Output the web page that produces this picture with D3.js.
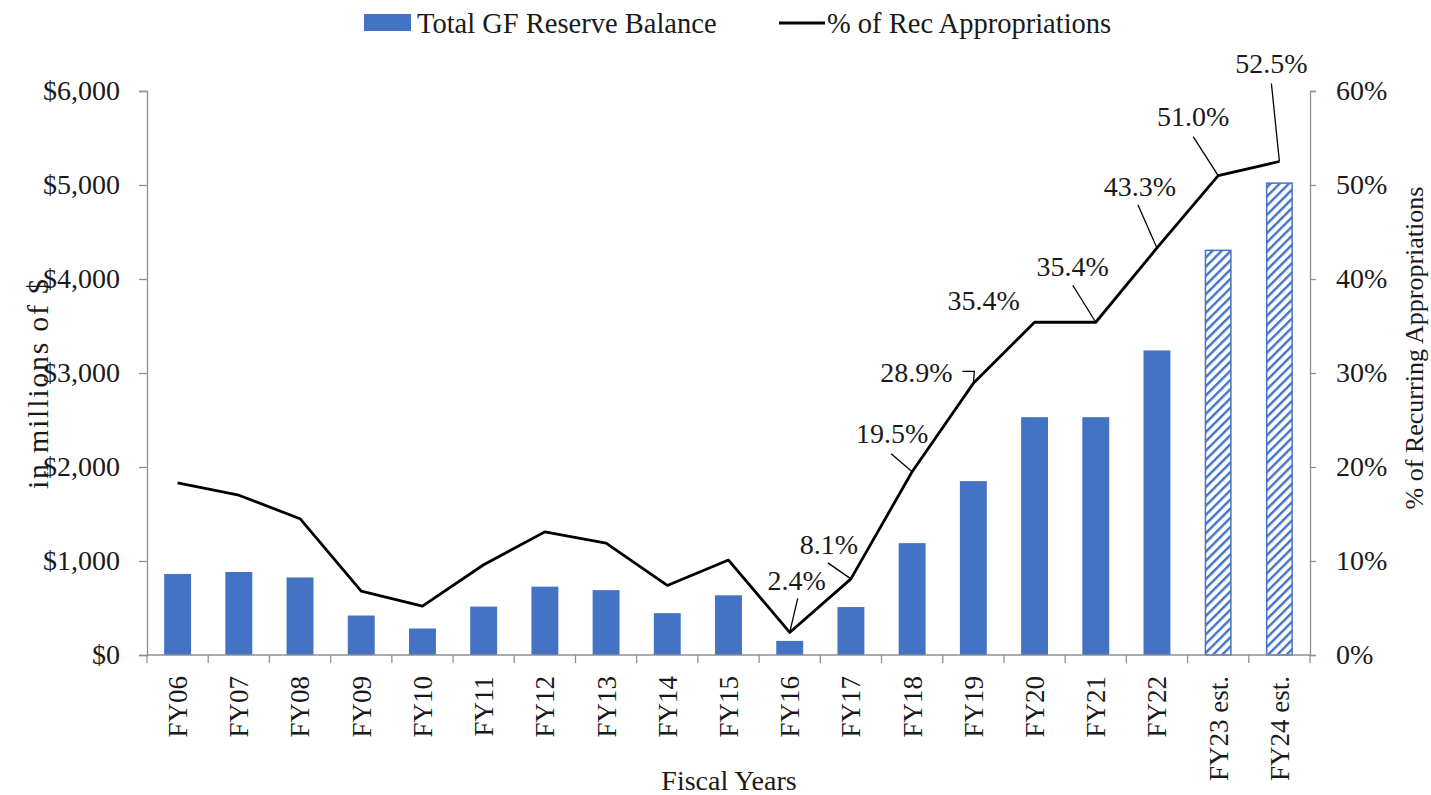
<!DOCTYPE html>
<html>
<head>
<meta charset="utf-8">
<script src="https://cdn.jsdelivr.net/npm/d3@7"></script>
<style>
  body { margin: 0; background: #fff; }
  text { font-family: "Liberation Serif", "Times New Roman", serif; fill: #1a1a1a; }
</style>
</head>
<body>
<div id="chart"></div>
<script>
const width = 1431;
const height = 795;

// data
const years = ["FY06", "FY07", "FY08", "FY09", "FY10", "FY11", "FY12", "FY13", "FY14", "FY15",
    "FY16", "FY17", "FY18", "FY19", "FY20", "FY21", "FY22", "FY23 est.", "FY24 est."];
const reserveBalance = [862, 883, 825, 420, 282, 515, 727, 690, 445, 635,
    150, 510, 1190, 1850, 2530, 2530, 3240, 4305, 5020];
const pctRecAppr = [18.3, 17.0, 14.5, 6.8, 5.2, 9.6, 13.1, 11.9, 7.4, 10.1,
    2.4, 8.1, 19.5, 28.9, 35.4, 35.4, 43.3, 51.0, 52.5];
const estimated = [false, false, false, false, false, false, false, false, false, false,
    false, false, false, false, false, false, false, true, true];
const leftTicks = [0, 1000, 2000, 3000, 4000, 5000, 6000];
const rightTicks = [0, 10, 20, 30, 40, 50, 60];

// which points get a value label, and where the label / leader sit (offsets from the point)
const callouts = [
    { year: "FY16", tx: 7, ty: -52, leader: [[0, 0], [8, -34]] },
    { year: "FY17", tx: -22, ty: -34, leader: [[0, 0], [-23, -16]] },
    { year: "FY18", tx: -20, ty: -38, leader: [[0, 0], [-21, -18]] },
    { year: "FY19", tx: -57, ty: -11, leader: [[0, 0], [1, -12], [-11, -12]] },
    { year: "FY20", tx: -51, ty: -22, leader: null },
    { year: "FY21", tx: -23, ty: -56, leader: [[0, 0], [-23, -37]] },
    { year: "FY22", tx: -17, ty: -61, leader: [[0, 0], [-19, -43]] },
    { year: "FY23 est.", tx: -25, ty: -59, leader: [[0, 0], [-25, -39]] },
    { year: "FY24 est.", tx: -8, ty: -98, leader: [[0, 0], [-8, -78]] },
];

const blue = "#4472C4";
const axisColor = "#8f8f8f";
const plot = { left: 147, right: 1310, top: 91, bottom: 655 };

const svg = d3.select("#chart")
    .append("svg")
    .attr("width", width)
    .attr("height", height);

// hatch for estimated years
svg.append("defs").append("pattern")
    .attr("id", "hatch")
    .attr("patternUnits", "userSpaceOnUse")
    .attr("width", 6.5)
    .attr("height", 6.5)
    .attr("patternTransform", "rotate(45)")
    .append("rect")
    .attr("x", 0).attr("y", 0)
    .attr("width", 2.4).attr("height", 6.5)
    .attr("fill", blue);

const x = d3.scaleBand()
    .domain(years)
    .range([plot.left, plot.right])
    .paddingInner(0.56)
    .paddingOuter(0.28);

const yLeft = d3.scaleLinear().domain([0, 6000]).range([plot.bottom, plot.top]);
const yRight = d3.scaleLinear().domain([0, 60]).range([plot.bottom, plot.top]);

const rows = years.map((y, i) => ({ year: y, bal: reserveBalance[i], pct: pctRecAppr[i], est: estimated[i] }));
const cx = d => x(d.year) + x.bandwidth() / 2;

// Bars
svg.selectAll(".bar")
    .data(rows)
    .enter().append("rect")
    .attr("class", "bar")
    .attr("x", d => x(d.year) + (d.est ? 0.75 : 0))
    .attr("y", d => yLeft(d.bal))
    .attr("width", d => x.bandwidth() - (d.est ? 1.5 : 0))
    .attr("height", d => plot.bottom - yLeft(d.bal))
    .attr("fill", d => d.est ? "url(#hatch)" : blue)
    .attr("stroke", d => d.est ? blue : "none")
    .attr("stroke-width", 1.5);

// Left axis
const gl = svg.append("g")
    .attr("transform", `translate(${plot.left},0)`)
    .call(d3.axisLeft(yLeft).tickValues(leftTicks).tickSize(8).tickPadding(19)
        .tickFormat(d => "$" + d3.format(",")(d)));

// Right axis
const gr = svg.append("g")
    .attr("transform", `translate(${plot.right},0)`)
    .call(d3.axisRight(yRight).tickValues(rightTicks).tickSize(6).tickPadding(20)
        .tickFormat(d => d + "%"));

[gl, gr].forEach(g => {
    g.select(".domain").attr("stroke", axisColor).attr("stroke-width", 1.3);
    g.selectAll(".tick line").attr("stroke", axisColor).attr("stroke-width", 1.3);
    g.selectAll(".tick text")
        .attr("font-size", "28px")
        .attr("font-family", "Liberation Serif")
        .attr("fill", "#1a1a1a");
});

// Bottom axis: baseline + ticks on band boundaries
const gap = (x.step() - x.bandwidth()) / 2;
const bounds = years.map(d => x(d) - gap).concat([x(years[years.length - 1]) + x.bandwidth() + gap]);
const gb = svg.append("g");
gb.append("line")
    .attr("x1", plot.left).attr("x2", plot.right)
    .attr("y1", plot.bottom).attr("y2", plot.bottom)
    .attr("stroke", axisColor).attr("stroke-width", 1.3);
gb.selectAll(".xtick")
    .data(bounds)
    .enter().append("line")
    .attr("x1", d => d).attr("x2", d => d)
    .attr("y1", plot.bottom).attr("y2", plot.bottom + 8)
    .attr("stroke", axisColor).attr("stroke-width", 1.3);
gb.selectAll(".xlabel")
    .data(years)
    .enter().append("text")
    .attr("transform", d => `translate(${x(d) + x.bandwidth() / 2},676) rotate(-90)`)
    .attr("text-anchor", "end")
    .attr("dy", "0.35em")
    .attr("font-size", "27px")
    .text(d => d);

// Line
const line = d3.line()
    .x(cx)
    .y(d => yRight(d.pct));

svg.append("path")
    .datum(rows)
    .attr("fill", "none")
    .attr("stroke", "#000")
    .attr("stroke-width", 2.8)
    .attr("stroke-linejoin", "round")
    .attr("d", line);

// Value labels with leader lines
const byYear = new Map(rows.map(d => [d.year, d]));
callouts.forEach(c => {
    const d = byYear.get(c.year);
    const px = cx(d), py = yRight(d.pct);
    if (c.leader) {
        svg.append("path")
            .attr("d", d3.line()(c.leader.map(p => [px + p[0], py + p[1]])))
            .attr("fill", "none")
            .attr("stroke", "#000")
            .attr("stroke-width", 1.3);
    }
    svg.append("text")
        .attr("x", px + c.tx)
        .attr("y", py + c.ty)
        .attr("text-anchor", "middle")
        .attr("dominant-baseline", "central")
        .attr("font-size", "28px")
        .text(d.pct.toFixed(1) + "%");
});

// Axis titles
svg.append("text")
    .attr("transform", "translate(37,384) rotate(-90)")
    .attr("text-anchor", "middle")
    .attr("dominant-baseline", "central")
    .attr("font-size", "30px")
    .attr("textLength", 210)
    .attr("lengthAdjust", "spacing")
    .text("in millions of $");

svg.append("text")
    .attr("transform", "translate(1414,348) rotate(-90)")
    .attr("text-anchor", "middle")
    .attr("dominant-baseline", "central")
    .attr("font-size", "26px")
    .text("% of Recurring Appropriations");

svg.append("text")
    .attr("x", 729)
    .attr("y", 790)
    .attr("text-anchor", "middle")
    .attr("font-size", "28px")
    .text("Fiscal Years");

// Legend
const legend = svg.append("g");
legend.append("rect")
    .attr("x", 364).attr("y", 14)
    .attr("width", 47).attr("height", 17)
    .attr("fill", blue);
legend.append("text")
    .attr("x", 417).attr("y", 23)
    .attr("dominant-baseline", "central")
    .attr("font-size", "28.5px")
    .text("Total GF Reserve Balance");
legend.append("line")
    .attr("x1", 779).attr("x2", 825)
    .attr("y1", 23).attr("y2", 23)
    .attr("stroke", "#000")
    .attr("stroke-width", 3);
legend.append("text")
    .attr("x", 827).attr("y", 23)
    .attr("dominant-baseline", "central")
    .attr("font-size", "28.5px")
    .text("% of Rec Appropriations");
</script>
</body>
</html>
